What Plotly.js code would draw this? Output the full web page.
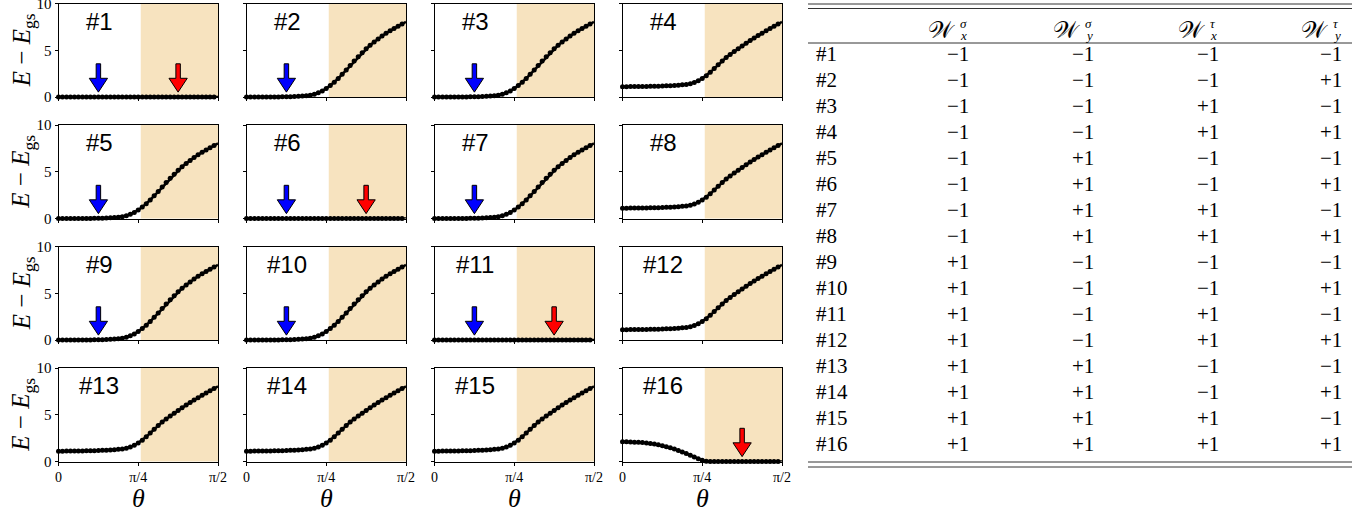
<!DOCTYPE html>
<html>
<head>
<meta charset="utf-8">
<script src="https://cdn.plot.ly/plotly-3.0.1.min.js"></script>
<style>
body { margin: 0; background: #fff; }
#graph { width: 1369px; height: 512px; }
</style>
</head>
<body>
<div id="graph"></div>
<script>
// theta grid of the sweep (0 .. pi/2)
var theta = [0.000, 0.039, 0.079, 0.118, 0.157, 0.196, 0.236, 0.275, 0.314, 0.353,
    0.393, 0.432, 0.471, 0.511, 0.550, 0.589, 0.628, 0.668, 0.707, 0.746,
    0.785, 0.825, 0.864, 0.903, 0.942, 0.982, 1.021, 1.060, 1.100, 1.139,
    1.178, 1.217, 1.257, 1.296, 1.335, 1.374, 1.414, 1.453, 1.492, 1.532, 1.571];

// E - E_gs
var gapZero = [0, 0, 0, 0, 0, 0, 0, 0, 0, 0,
    0, 0, 0, 0, 0, 0, 0, 0, 0, 0,
    0, 0, 0, 0, 0, 0, 0, 0, 0, 0,
    0, 0, 0, 0, 0, 0, 0, 0, 0, 0, 0];
var gapRise = [0.00, 0.00, 0.00, 0.00, 0.00, 0.00, 0.01, 0.01, 0.01, 0.02,
    0.03, 0.04, 0.05, 0.07, 0.10, 0.14, 0.20, 0.30, 0.45, 0.65,
    0.90, 1.22, 1.58, 1.98, 2.42, 2.88, 3.36, 3.84, 4.30, 4.74,
    5.15, 5.53, 5.88, 6.21, 6.52, 6.81, 7.08, 7.33, 7.58, 7.81, 8.03];
var gapOffset = [1.10, 1.10, 1.11, 1.11, 1.12, 1.12, 1.13, 1.14, 1.15, 1.16,
    1.17, 1.19, 1.21, 1.23, 1.26, 1.30, 1.35, 1.43, 1.55, 1.73,
    1.97, 2.28, 2.64, 3.04, 3.45, 3.85, 4.22, 4.55, 4.87, 5.17,
    5.46, 5.75, 6.03, 6.30, 6.57, 6.83, 7.08, 7.33, 7.57, 7.80, 8.03];
var gapDrop = [2.10, 2.10, 2.09, 2.07, 2.05, 2.02, 1.98, 1.93, 1.86, 1.78,
    1.69, 1.58, 1.46, 1.33, 1.18, 1.02, 0.85, 0.67, 0.48, 0.29,
    0.13, 0.04, 0.01, 0, 0, 0, 0, 0, 0, 0,
    0, 0, 0, 0, 0, 0, 0, 0, 0, 0, 0];

var panelNames = ["#1", "#2", "#3", "#4", "#5", "#6", "#7", "#8",
    "#9", "#10", "#11", "#12", "#13", "#14", "#15", "#16"];
var panelCurve = ["zero", "rise", "rise", "offset", "rise", "zero", "rise", "offset",
    "rise", "rise", "zero", "offset", "offset", "offset", "offset", "drop"];
var blueArrowPanels = [1, 2, 3, 5, 6, 7, 9, 10, 11];
var redArrowPanels = [1, 6, 11, 16];
var blueArrowTheta = 0.393;
var redArrowTheta = 1.178;

var xTickVals = [0, Math.PI / 4, Math.PI / 2];
var xTickText = ["0", "π/4", "π/2"];
var yTickVals = [0, 5, 10];

// table
var wxSigma = [-1, -1, -1, -1, -1, -1, -1, -1, 1, 1, 1, 1, 1, 1, 1, 1];
var wySigma = [-1, -1, -1, -1, 1, 1, 1, 1, -1, -1, -1, -1, 1, 1, 1, 1];
var wxTau = [-1, -1, 1, 1, -1, -1, 1, 1, -1, -1, 1, 1, -1, -1, 1, 1];
var wyTau = [-1, 1, -1, 1, -1, 1, -1, 1, -1, 1, -1, 1, -1, 1, -1, 1];
var headSup = ["σ", "σ", "τ", "τ"];
var headSub = ["x", "y", "x", "y"];

var W = 1369, H = 512;
var colLeft = [58.5, 246.5, 434.5, 622.5], colWidth = 159.5;
var rowTop = [3.5, 125, 246.5, 368], rowHeight = 93.5;
var shadeStart = 0.81;
var shadeColor = "rgb(247,227,191)";
var serif = "Liberation Serif";

var curves = { zero: gapZero, rise: gapRise, offset: gapOffset, drop: gapDrop };

function px(x) { return x / W; }
function py(y) { return 1 - y / H; }

function arrowPath(x) {
    var top = 3.55, base = 2.0, tip = 0.52, hw = 0.09, sw = 0.022;
    return "M" + (x - sw) + "," + top + " L" + (x + sw) + "," + top +
        " L" + (x + sw) + "," + base + " L" + (x + hw) + "," + base +
        " L" + x + "," + tip + " L" + (x - hw) + "," + base +
        " L" + (x - sw) + "," + base + " Z";
}

// text placed in page pixels
function label(x, y, text, size, opts) {
    var a = {
        xref: "paper", yref: "paper",
        x: px(x), y: py(y),
        text: text,
        showarrow: false,
        xanchor: "center", yanchor: "middle",
        font: { family: serif, size: size, color: "#000" }
    };
    for (var key in opts) a[key] = opts[key];
    return a;
}

var data = [];
var layout = {
    width: W,
    height: H,
    margin: { l: 0, r: 0, t: 0, b: 0 },
    paper_bgcolor: "white",
    plot_bgcolor: "white",
    showlegend: false,
    shapes: [],
    annotations: []
};

for (var k = 0; k < 16; k++) {
    var r = Math.floor(k / 4), c = k % 4;
    var s = k === 0 ? "" : String(k + 1);

    data.push({
        x: theta,
        y: curves[panelCurve[k]],
        xaxis: "x" + s,
        yaxis: "y" + s,
        mode: "lines+markers",
        line: { color: "#000", width: 2.5 },
        marker: { color: "#000", size: 5 },
        cliponaxis: false,
        hoverinfo: "skip"
    });

    layout["xaxis" + s] = {
        domain: [px(colLeft[c]), px(colLeft[c] + colWidth)],
        anchor: "y" + s,
        range: [0, Math.PI / 2],
        tickvals: xTickVals,
        ticktext: xTickText,
        showticklabels: r === 3,
        ticks: "outside",
        ticklen: 3,
        tickcolor: "#000",
        showline: true,
        mirror: true,
        linecolor: "#000",
        linewidth: 1,
        showgrid: false,
        zeroline: false,
        ticklabeloverflow: "allow",
        tickfont: { family: serif, size: 14, color: "#000" }
    };
    layout["yaxis" + s] = {
        domain: [py(rowTop[r] + rowHeight), py(rowTop[r])],
        anchor: "x" + s,
        range: [0, 10],
        tickvals: yTickVals,
        showticklabels: c === 0,
        ticks: "outside",
        ticklen: 3,
        tickcolor: "#000",
        showline: true,
        mirror: true,
        linecolor: "#000",
        linewidth: 1,
        showgrid: false,
        zeroline: false,
        ticklabeloverflow: "allow",
        tickfont: { family: serif, size: 15, color: "#000" }
    };

    layout.shapes.push({
        type: "rect",
        xref: "x" + s,
        yref: "y" + s + " domain",
        x0: shadeStart, x1: Math.PI / 2, y0: 0, y1: 1,
        fillcolor: shadeColor,
        line: { width: 0 },
        layer: "below"
    });

    if (blueArrowPanels.indexOf(k + 1) >= 0) {
        layout.shapes.push({
            type: "path", xref: "x" + s, yref: "y" + s,
            path: arrowPath(blueArrowTheta),
            fillcolor: "#0000ff", line: { color: "#000", width: 1 }
        });
    }
    if (redArrowPanels.indexOf(k + 1) >= 0) {
        layout.shapes.push({
            type: "path", xref: "x" + s, yref: "y" + s,
            path: arrowPath(redArrowTheta),
            fillcolor: "#ff0000", line: { color: "#000", width: 1 }
        });
    }

    layout.annotations.push({
        xref: "x" + s, yref: "y" + s,
        x: 0.40, y: 8.1,
        xanchor: "center", yanchor: "middle",
        text: panelNames[k],
        showarrow: false,
        font: { family: "Liberation Sans", size: 24, color: "#000" }
    });
}

// axis titles
for (var r = 0; r < 4; r++) {
    layout.annotations.push(label(23, rowTop[r] + rowHeight / 2,
        "<i>E</i> − <i>E</i><sub>gs</sub>", 25, { textangle: -90 }));
}
for (var c = 0; c < 4; c++) {
    layout.annotations.push(label(colLeft[c] + colWidth / 2, 498, "<i>θ</i>", 26));
}

// table
var tabX0 = 808, tabX1 = 1352;
var tabLines = [4, 8.5, 43, 462, 467];
tabLines.forEach(function (y) {
    layout.shapes.push({
        type: "line", xref: "paper", yref: "paper",
        x0: px(tabX0), x1: px(tabX1), y0: py(y), y1: py(y),
        line: { color: "#333", width: 1 }
    });
});

var colCenter = [958, 1083, 1208, 1331];
var rowY0 = 54, rowStep = 26;
var tableCols = [wxSigma, wySigma, wxTau, wyTau];

for (var j = 0; j < 4; j++) {
    layout.annotations.push(label(colCenter[j] - 1, 30, "𝒲", 24, { xanchor: "right" }));
    layout.annotations.push(label(colCenter[j], 23, "<i>" + headSup[j] + "</i>", 13, { xanchor: "left" }));
    layout.annotations.push(label(colCenter[j], 35, "<i>" + headSub[j] + "</i>", 13, { xanchor: "left" }));
}

for (var i = 0; i < panelNames.length; i++) {
    var yRow = rowY0 + rowStep * i;
    layout.annotations.push(label(814, yRow, panelNames[i], 21, { xanchor: "left" }));
    for (var j = 0; j < 4; j++) {
        layout.annotations.push(label(colCenter[j], yRow, tableCols[j][i] > 0 ? "+1" : "−1", 21));
    }
}

Plotly.newPlot("graph", data, layout, { staticPlot: true, displayModeBar: false });
</script>
</body>
</html>
